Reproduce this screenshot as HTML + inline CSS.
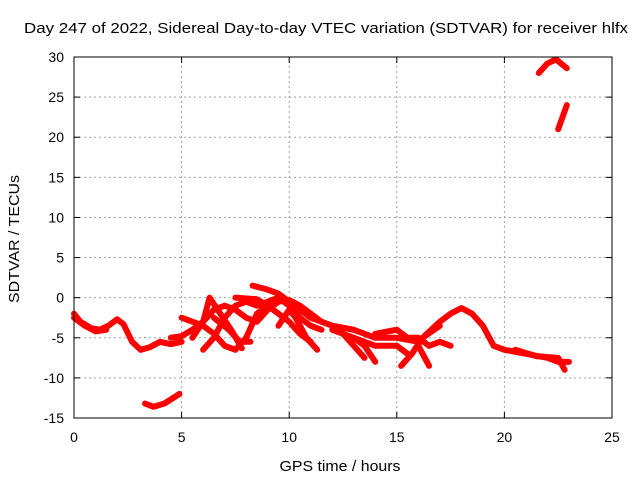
<!DOCTYPE html>
<html><head><meta charset="utf-8"><style>
body{margin:0;background:#fff;}
svg{display:block;font-family:"Liberation Sans",sans-serif;}
</style></head><body>
<svg id="chart" width="640" height="480">
<rect width="640" height="480" fill="#fff"/>
<text x="326" y="33" font-size="15" text-anchor="middle" textLength="604" lengthAdjust="spacingAndGlyphs">Day 247 of 2022, Sidereal Day-to-day VTEC variation (SDTVAR) for receiver hlfx</text>
<text x="340" y="471" font-size="15" text-anchor="middle" textLength="121" lengthAdjust="spacingAndGlyphs">GPS time / hours</text>
<text transform="translate(19,239) rotate(-90)" font-size="15" text-anchor="middle" textLength="128" lengthAdjust="spacingAndGlyphs">SDTVAR / TECUs</text>
<g id="grid"></g><g id="series"></g><g id="axes"></g>
</svg>
<script>
const xTicks=[0,5,10,15,20,25];
const yTicks=[-15,-10,-5,0,5,10,15,20,25,30];
const track1=[[0,-2],[0.3,-3],[0.8,-3.8],[1.2,-4],[1.6,-3.5],[2,-2.7],[2.3,-3.3],[2.7,-5.5],[3.1,-6.5],[3.5,-6.2],[4,-5.5],[4.5,-5.8],[5,-5.5]];
const track2=[[0,-2.5],[0.5,-3.5],[1,-4.2],[1.5,-4]];
const track3=[[3.3,-13.2],[3.7,-13.6],[4.2,-13.2],[4.9,-12]];
const track4=[[4.5,-5],[5,-4.8],[5.5,-4],[6,-3],[6.5,-1.5],[7,-1],[7.5,-1.5],[8,-2.5],[8.5,-3],[9,-1.5],[9.5,-0.5],[10,-0.3],[10.5,-1],[11,-2],[11.5,-3],[12,-3.5]];
const track5=[[5,-2.5],[5.5,-3],[6,-3.5],[6.5,-4.5],[7,-6],[7.5,-6.5],[8,-5],[8.5,-2],[9,-1],[9.5,-2],[10,-3],[10.5,-4.5],[11,-5.5]];
const track6=[[5.5,-5],[6,-3],[6.3,0],[6.8,-2],[7.3,-4],[7.8,-6.3]];
const track7=[[6,-6.5],[6.5,-5],[7,-2.5],[7.5,-1],[8,-0.5],[8.5,-1],[9,-0.5],[9.5,0],[10,-1],[10.5,-2.5],[11,-3.5],[11.5,-4]];
const track8=[[6.5,-2.5],[7.2,-4],[7.7,-5.5],[8.2,-5.5]];
const track9=[[8.3,1.5],[9,1],[9.5,0.5],[10,-0.5],[10.5,-1.5],[11,-2.5],[11.5,-3]];
const track10=[[9.5,-3.5],[10,-1.5],[10.3,-2.5],[10.8,-5],[11.3,-6.5]];
const track11=[[7.5,0],[8.5,-0.2],[9,-1]];
const track12=[[12,-3.5],[13,-4],[14,-5],[15,-5],[16,-5.5],[17,-3],[17.5,-2],[18,-1.3],[18.5,-2],[19,-3.5],[19.5,-6],[20,-6.5],[21,-7],[22,-7.5],[22.5,-8],[23,-8]];
const track13=[[12,-4],[13,-5],[13.5,-6],[14,-8]];
const track14=[[12.5,-4.5],[13,-6],[13.5,-7.5]];
const track15=[[14,-4.5],[15,-4],[15.5,-5],[16,-5],[16.5,-6],[17,-5.5],[17.5,-6]];
const track16=[[15.2,-8.5],[15.7,-7],[16.2,-5],[17,-3.5]];
const track17=[[16,-6],[16.5,-8.5]];
const track18=[[13,-5],[14,-6],[15,-6],[15.5,-7]];
const track19=[[20.5,-6.5],[21.5,-7.3],[22.5,-7.5],[22.8,-9]];
const track20=[[21.6,28],[22,29.2],[22.4,29.7],[22.9,28.6]];
const track21=[[22.5,21],[22.9,24]];
const tracks=[track1,track2,track3,track4,track5,track6,track7,track8,track9,track10,track11,track12,track13,track14,track15,track16,track17,track18,track19,track20,track21];

const X0=74,X1=612,Y0=418,Y1=57;
const xs=v=>X0+(v-0)/(25-0)*(X1-X0);
const ys=v=>Y0-(v+15)/(45)*(Y0-Y1);
const NS="http://www.w3.org/2000/svg";
const grid=document.getElementById('grid'),axes=document.getElementById('axes'),ser=document.getElementById('series');
function mk(tag,attrs,parent){const e=document.createElementNS(NS,tag);for(const k in attrs)e.setAttribute(k,attrs[k]);parent.appendChild(e);return e;}
xTicks.forEach(t=>{
  const x=xs(t);
  if(t>0&&t<25){const g=mk('line',{x1:x,x2:x,y1:Y0,y2:Y1,stroke:'#a0a0a0','stroke-dasharray':'2,3'},grid);
  
  }
  mk('line',{x1:x,x2:x,y1:Y0,y2:Y0-6,stroke:'#000'},axes);
  mk('line',{x1:x,x2:x,y1:Y1,y2:Y1+6,stroke:'#000'},axes);
  const l=mk('text',{x:x,y:Y0+24,'font-size':14,'text-anchor':'middle'},axes);l.textContent=t;
  
  
});
yTicks.forEach(t=>{
  const y=ys(t);
  if(t>-15&&t<30){const g=mk('line',{x1:X0,x2:X1,y1:y,y2:y,stroke:'#a0a0a0','stroke-dasharray':'2,3'},grid);
  
  }
  mk('line',{x1:X0,x2:X0+6,y1:y,y2:y,stroke:'#000'},axes);
  mk('line',{x1:X1,x2:X1-6,y1:y,y2:y,stroke:'#000'},axes);
  const l=mk('text',{x:X0-10,y:y+5,'font-size':14,'text-anchor':'end'},axes);l.textContent=t;
  
  
});
const frame=mk('rect',{x:X0,y:Y1,width:X1-X0,height:Y0-Y1,fill:'none',stroke:'#000'},axes);


tracks.forEach(tr=>{
  const p=mk('polyline',{points:tr.map(d=>xs(d[0])+','+ys(d[1])).join(' '),fill:'none',stroke:'#ff0000','stroke-width':6,'stroke-linejoin':'round','stroke-linecap':'round'},ser);
  
  
});
</script>
</body></html>
